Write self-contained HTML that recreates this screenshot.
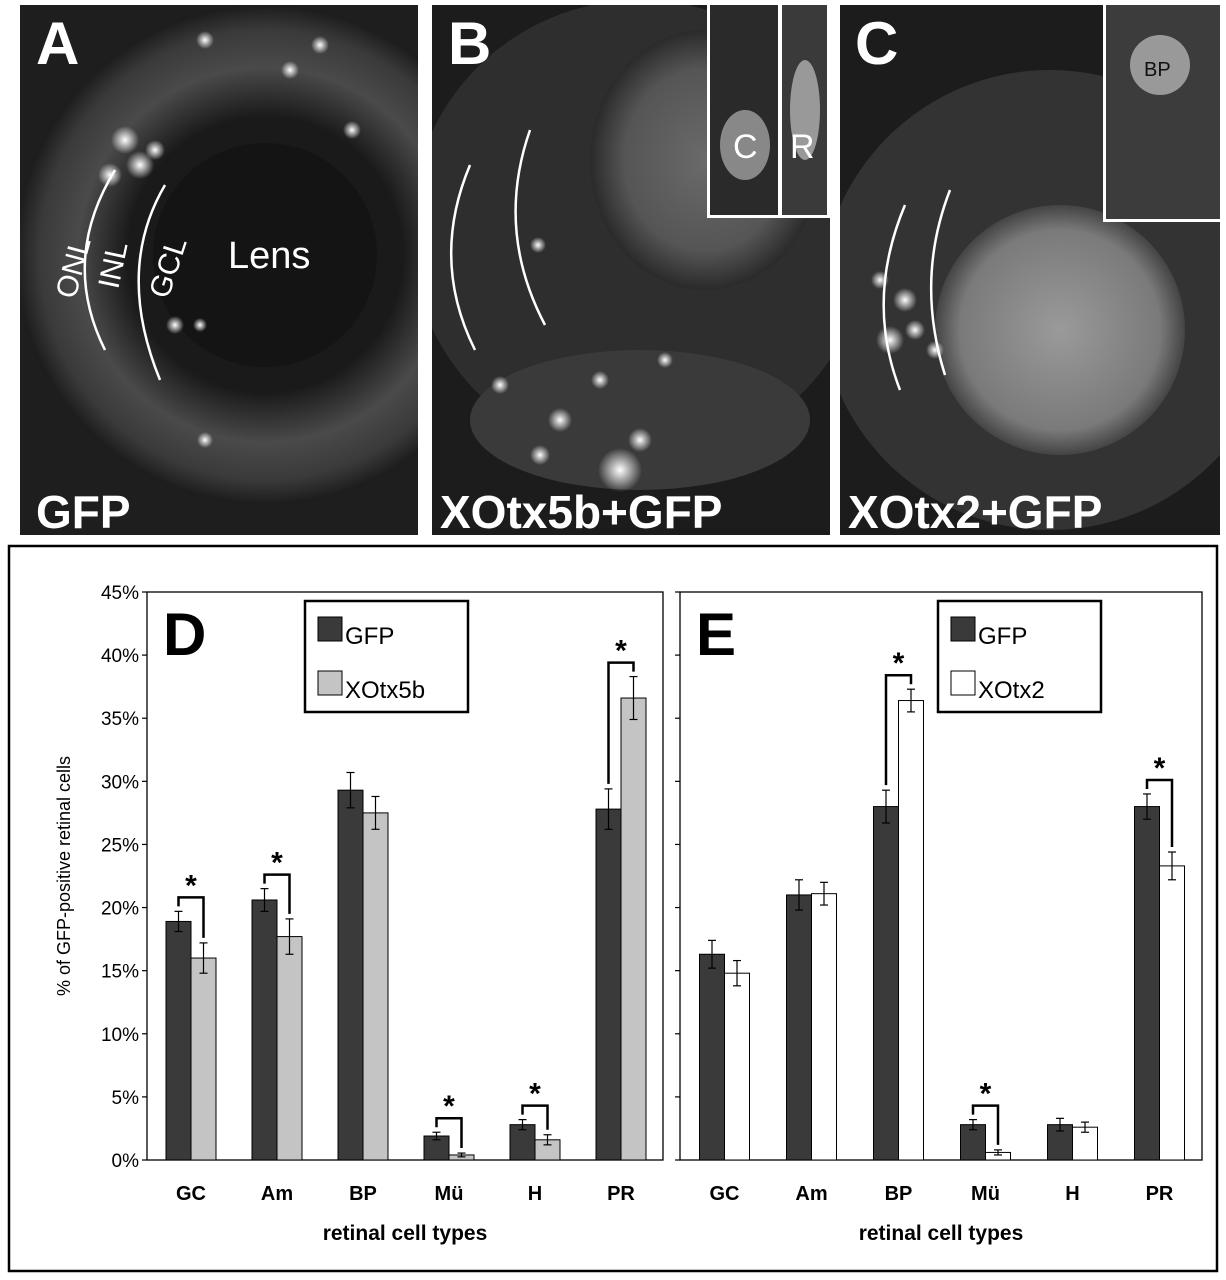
<!DOCTYPE html>
<html><head><meta charset="utf-8"><style>
html,body{margin:0;padding:0;background:#fff;}
body{width:1226px;height:1280px;position:relative;overflow:hidden;font-family:"Liberation Sans",Arial,sans-serif;}
svg{position:absolute;left:0;top:0;}
</style></head><body>
<svg width="1226" height="1280" viewBox="0 0 1226 1280">
<defs>
<radialGradient id="gA" cx="0.5" cy="0.5" r="0.5"><stop offset="0.55" stop-color="#1a1a1a"/><stop offset="0.75" stop-color="#4a4a4a"/><stop offset="0.9" stop-color="#3a3a3a"/><stop offset="1" stop-color="#1c1c1c"/></radialGradient>
<radialGradient id="gB" cx="0.5" cy="0.5" r="0.5"><stop offset="0" stop-color="#6a6a6a"/><stop offset="0.7" stop-color="#555"/><stop offset="1" stop-color="#2a2a2a"/></radialGradient>
<radialGradient id="gC" cx="0.5" cy="0.5" r="0.5"><stop offset="0" stop-color="#9a9a9a"/><stop offset="0.8" stop-color="#7a7a7a"/><stop offset="1" stop-color="#444"/></radialGradient>
<radialGradient id="cell" cx="0.5" cy="0.5" r="0.5"><stop offset="0" stop-color="#fff"/><stop offset="1" stop-color="#fff" stop-opacity="0"/></radialGradient>
<clipPath id="cA"><rect x="20" y="5" width="398" height="530"/></clipPath>
<clipPath id="cB"><rect x="432" y="5" width="398" height="530"/></clipPath>
<clipPath id="cC"><rect x="840" y="5" width="380" height="530"/></clipPath>
</defs>
<!-- Panel A -->
<g clip-path="url(#cA)">
<rect x="20" y="5" width="398" height="530" fill="#1e1e1e"/>
<circle cx="265" cy="255" r="250" fill="url(#gA)"/>
<circle cx="265" cy="255" r="112" fill="#141414"/>
<g fill="url(#cell)">
<circle cx="125" cy="140" r="14"/><circle cx="140" cy="165" r="14"/><circle cx="110" cy="175" r="12"/><circle cx="155" cy="150" r="10"/><circle cx="290" cy="70" r="9"/><circle cx="320" cy="45" r="9"/><circle cx="352" cy="130" r="9"/><circle cx="205" cy="40" r="9"/><circle cx="175" cy="325" r="9"/><circle cx="205" cy="440" r="8"/><circle cx="200" cy="325" r="7"/>
</g>
<path d="M105,350 Q60,260 115,170" stroke="#fff" stroke-width="2.5" fill="none"/>
<path d="M160,380 Q115,270 165,185" stroke="#fff" stroke-width="2.5" fill="none"/>
<text x="0" y="0" transform="translate(75,300) rotate(-75)" fill="#fff" font-size="30">ONL</text>
<text x="0" y="0" transform="translate(118,290) rotate(-78)" fill="#fff" font-size="30">INL</text>
<text x="0" y="0" transform="translate(168,300) rotate(-72)" fill="#fff" font-size="30">GCL</text>
<text x="228" y="268" fill="#fff" font-size="38">Lens</text>
<text x="36" y="64" fill="#fff" font-size="60" font-weight="bold">A</text>
<text x="36" y="528" fill="#fff" font-size="46" font-weight="bold">GFP</text>
</g>
<!-- Panel B -->
<g clip-path="url(#cB)">
<rect x="432" y="5" width="398" height="530" fill="#1c1c1c"/>
<ellipse cx="640" cy="230" rx="230" ry="230" fill="#2e2e2e"/>
<ellipse cx="705" cy="160" rx="115" ry="130" fill="url(#gB)"/>
<ellipse cx="640" cy="420" rx="170" ry="70" fill="#3a3a3a"/>
<g fill="url(#cell)">
<circle cx="620" cy="470" r="22"/><circle cx="560" cy="420" r="12"/><circle cx="540" cy="455" r="10"/><circle cx="600" cy="380" r="9"/><circle cx="500" cy="385" r="9"/><circle cx="665" cy="360" r="8"/><circle cx="538" cy="245" r="8"/><circle cx="640" cy="440" r="12"/>
</g>
<path d="M475,350 Q430,260 470,165" stroke="#fff" stroke-width="2.5" fill="none"/>
<path d="M545,325 Q495,230 530,130" stroke="#fff" stroke-width="2.5" fill="none"/>
<rect x="707" y="5" width="123" height="213" fill="#fff"/>
<rect x="710" y="5" width="68" height="210" fill="#2a2a2a"/>
<rect x="782" y="5" width="45" height="210" fill="#3a3a3a"/>
<ellipse cx="745" cy="145" rx="25" ry="35" fill="#888"/>
<ellipse cx="805" cy="110" rx="15" ry="50" fill="#999"/>
<text x="733" y="158" fill="#fff" font-size="34">C</text>
<text x="790" y="158" fill="#fff" font-size="34">R</text>
<text x="448" y="64" fill="#fff" font-size="60" font-weight="bold">B</text>
<text x="440" y="528" fill="#fff" font-size="46" font-weight="bold">XOtx5b+GFP</text>
</g>
<!-- Panel C -->
<g clip-path="url(#cC)">
<rect x="840" y="5" width="380" height="530" fill="#1c1c1c"/>
<circle cx="1050" cy="300" r="230" fill="#333"/>
<circle cx="1060" cy="330" r="125" fill="url(#gC)"/>
<g fill="url(#cell)">
<circle cx="890" cy="340" r="14"/><circle cx="905" cy="300" r="12"/><circle cx="915" cy="330" r="10"/><circle cx="880" cy="280" r="9"/><circle cx="935" cy="350" r="9"/>
</g>
<path d="M900,390 Q865,300 905,205" stroke="#fff" stroke-width="2.5" fill="none"/>
<path d="M945,375 Q915,280 950,190" stroke="#fff" stroke-width="2.5" fill="none"/>
<rect x="1103" y="5" width="117" height="217" fill="#fff"/>
<rect x="1106" y="5" width="114" height="214" fill="#3c3c3c"/>
<ellipse cx="1160" cy="65" rx="30" ry="30" fill="#999"/>
<text x="1144" y="76" fill="#111" font-size="20">BP</text>
<text x="855" y="64" fill="#fff" font-size="60" font-weight="bold">C</text>
<text x="848" y="528" fill="#fff" font-size="46" font-weight="bold">XOtx2+GFP</text>
</g>
<!-- chart frame -->
<rect x="9" y="546" width="1208" height="725" fill="#fff" stroke="#000" stroke-width="2.5"/>
<g id="charts"></g>
</svg>
<script>
const categories = ["GC","Am","BP","Mü","H","PR"];
const yTicks = [0,5,10,15,20,25,30,35,40,45];
const dGfp = [18.9,20.6,29.3,1.9,2.8,27.8];
const dGfpErr = [0.8,0.9,1.4,0.3,0.4,1.6];
const dOtx5b = [16.0,17.7,27.5,0.4,1.6,36.6];
const dOtx5bErr = [1.2,1.4,1.3,0.15,0.4,1.7];
const dSig = [true,true,false,true,true,true];
const eGfp = [16.3,21.0,28.0,2.8,2.8,28.0];
const eGfpErr = [1.1,1.2,1.3,0.4,0.5,1.0];
const eOtx2 = [14.8,21.1,36.4,0.6,2.6,23.3];
const eOtx2Err = [1.0,0.9,0.9,0.2,0.4,1.1];
const eSig = [false,false,true,true,false,true];

const NS="http://www.w3.org/2000/svg";
const root=document.getElementById('charts');
function mk(tag,attrs,parent){const e=document.createElementNS(NS,tag);for(const k in attrs)e.setAttribute(k,attrs[k]);(parent||root).appendChild(e);return e;}
const y0=1160, y45=592;
function yS(v){return y0-(v/45)*(y0-y45);}

function chart(cfg){
  const g=mk('g',{});
  
  
  const L=cfg.x0,R=cfg.x1;
  const box=mk('rect',{x:L,y:y45,width:R-L,height:y0-y45,fill:'none',stroke:'#000','stroke-width':1.3},g);
  
  
  yTicks.forEach(t=>{
    const yy=yS(t);
    const tk=mk('line',{x1:L-5,x2:L,y1:yy,y2:yy,stroke:'#000','stroke-width':1.2},g);
    
    
    if(cfg.labels){
      const tx=mk('text',{x:L-8,y:yy+7,'text-anchor':'end','font-size':19,fill:'#000'},g);
      
      
      tx.textContent=t+'%';
    }
  });
  const step=(R-L)/6, bw=25;
  categories.forEach((c,i)=>{
    const cx=L+step*(i+0.5)+1;
    const series=[[cfg.a,cfg.aErr,'#3a3a3a',cx-bw],[cfg.b,cfg.bErr,cfg.bFill,cx]];
    const tops=[];
    series.forEach((s,j)=>{
      const v=s[0][i],e=s[1][i];
      const r=mk('rect',{x:s[3],y:yS(v),width:bw,height:y0-yS(v),fill:s[2],stroke:'#000','stroke-width':1},g);
      
      
      const mx=s[3]+bw/2;
      mk('line',{x1:mx,x2:mx,y1:yS(v+e),y2:yS(v-e),stroke:'#000','stroke-width':1.2},g);
      mk('line',{x1:mx-4,x2:mx+4,y1:yS(v+e),y2:yS(v+e),stroke:'#000','stroke-width':1.2},g);
      mk('line',{x1:mx-4,x2:mx+4,y1:yS(v-e),y2:yS(v-e),stroke:'#000','stroke-width':1.2},g);
      tops.push([mx,yS(v+e)]);
    });
    if(cfg.sig[i]){
      const top=Math.min(tops[0][1],tops[1][1])-14;
      const p=mk('path',{d:`M${tops[0][0]},${tops[0][1]-5} V${top} H${tops[1][0]} V${tops[1][1]-5}`,fill:'none',stroke:'#000','stroke-width':2.5},g);
      
      
      const st=mk('text',{x:(tops[0][0]+tops[1][0])/2,y:top-2,'text-anchor':'middle','font-size':30,'font-weight':'bold'},g);
      
      
      st.textContent='*';
    }
    const xl=mk('text',{x:cx,y:1200,'text-anchor':'middle','font-size':20,'font-weight':'bold'},g);
    
    
    xl.textContent=c;
  });
  const xt=mk('text',{x:(L+R)/2,y:1240,'text-anchor':'middle','font-size':21,'font-weight':'bold'},g);
  
  
  xt.textContent='retinal cell types';
  const letter=mk('text',{x:L+16,y:655,'font-size':60,'font-weight':'bold'},g);
  
  
  letter.textContent=cfg.letter;
  const lg=mk('g',{},g);
  
  
  mk('rect',{x:cfg.lx,y:601,width:163,height:111,fill:'#fff',stroke:'#000','stroke-width':2.5},lg);
  mk('rect',{x:cfg.lx+13,y:617,width:24,height:24,fill:'#3a3a3a',stroke:'#000','stroke-width':1},lg);
  mk('rect',{x:cfg.lx+13,y:671,width:24,height:24,fill:cfg.bFill,stroke:'#000','stroke-width':1},lg);
  const t1=mk('text',{x:cfg.lx+40,y:644,'font-size':24},lg);
  
  
  t1.textContent='GFP';
  const t2=mk('text',{x:cfg.lx+40,y:698,'font-size':24},lg);
  
  
  t2.textContent=cfg.bName;
}
chart({name:'chart-d',x0:147,x1:663,labels:true,a:dGfp,aErr:dGfpErr,b:dOtx5b,bErr:dOtx5bErr,bFill:'#c4c4c4',sig:dSig,letter:'D',lx:305,bName:'XOtx5b'});
chart({name:'chart-e',x0:680,x1:1202,labels:false,a:eGfp,aErr:eGfpErr,b:eOtx2,bErr:eOtx2Err,bFill:'#fff',sig:eSig,letter:'E',lx:938,bName:'XOtx2'});
const yl=mk('text',{x:0,y:0,transform:'translate(70,876) rotate(-90)','text-anchor':'middle','font-size':18});


yl.textContent='% of GFP-positive retinal cells';
</script>
</body></html>
